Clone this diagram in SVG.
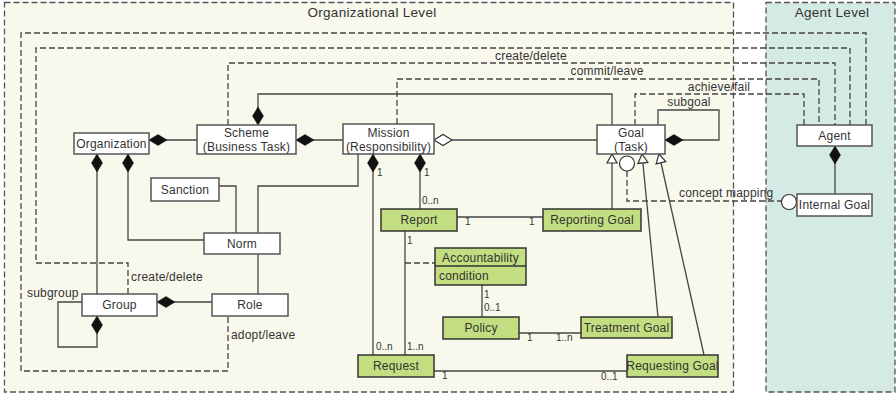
<svg xmlns="http://www.w3.org/2000/svg" width="896" height="396" viewBox="0 0 896 396">
<style>
text{font-family:"Liberation Sans",Arial,sans-serif;fill:#333;}
.t{font-size:12px;text-anchor:middle;letter-spacing:0.2px;}
.l{font-size:12px;letter-spacing:0.2px;}
.m{font-size:10px;}
.title{font-size:13.5px;text-anchor:middle;letter-spacing:0.3px;}
.wb{fill:#fff;stroke:#555;stroke-width:1.5;}
.gb{fill:#c2de80;stroke:#333;stroke-width:1.5;}
.ln{fill:none;stroke:#444;stroke-width:1.3;}
.dl{fill:none;stroke:#444;stroke-width:1.3;stroke-dasharray:6,3;}
.reg{stroke:#555;stroke-width:1.3;stroke-dasharray:6,3;}
</style>
<defs>
<marker id="dia" markerUnits="userSpaceOnUse" markerWidth="20" markerHeight="12" refX="0" refY="0" orient="auto" overflow="visible">
<path d="M0,0 L-9,-5.5 L-18,0 L-9,5.5 Z" fill="#111" stroke="#111" stroke-width="0.5"/>
</marker>
<marker id="odia" markerUnits="userSpaceOnUse" markerWidth="20" markerHeight="12" refX="0" refY="0" orient="auto" overflow="visible">
<path d="M0,0 L-9,-5.5 L-18,0 L-9,5.5 Z" fill="#fff" stroke="#333" stroke-width="1.2"/>
</marker>
<marker id="tri" markerUnits="userSpaceOnUse" markerWidth="12" markerHeight="12" refX="0" refY="0" orient="auto" overflow="visible">
<path d="M0,0 L-9,-5 L-9,5 Z" fill="#fff" stroke="#333" stroke-width="1.2"/>
</marker>
</defs>

<g id="regions">
<rect x="4.5" y="2.5" width="729" height="389.5" fill="#f9f8ed" class="reg"/>
<rect x="766" y="2.5" width="129" height="389.5" fill="#d5eae4" class="reg"/>
<text class="title" x="372" y="17">Organizational Level</text>
<text class="title" x="832" y="17">Agent Level</text>
</g>

<g id="connectors">
<polyline class="dl" points="228,317 228,371 21,371 21,33 866,33 866,125"/>
<polyline class="dl" points="128,294 128,263 36,263 36,48 850,48 850,125"/>
<polyline class="dl" points="228,125 228,63 835,63 835,125"/>
<polyline class="dl" points="397,124 397,79 819,79 819,125"/>
<polyline class="dl" points="635,125 635,94 804,94 804,125"/>
<polyline class="dl" points="627,171 627,201 781,201"/>
<line class="dl" x1="405" y1="263" x2="435" y2="263"/>
<line class="ln" x1="197" y1="140" x2="149" y2="140" marker-end="url(#dia)"/>
<line class="ln" x1="343" y1="140" x2="296" y2="140" marker-end="url(#dia)"/>
<polyline class="ln" points="612,125 612,94 258,94 258,125" marker-end="url(#dia)"/>
<line class="ln" x1="597" y1="140" x2="434" y2="140" marker-end="url(#odia)"/>
<polyline class="ln" points="658,125 658,110 719,110 719,140 665,140" marker-end="url(#dia)"/>
<line class="ln" x1="97" y1="294" x2="97" y2="154" marker-end="url(#dia)"/>
<polyline class="ln" points="204,240 128,240 128,154" marker-end="url(#dia)"/>
<polyline class="ln" points="219,186 236,186 236,233"/>
<polyline class="ln" points="358,154 358,186 258,186 258,233"/>
<line class="ln" x1="258" y1="254" x2="258" y2="294"/>
<line class="ln" x1="212" y1="302" x2="157" y2="302" marker-end="url(#dia)"/>
<polyline class="ln" points="82,302 58,302 58,347 97,347 97,316" marker-end="url(#dia)"/>
<line class="ln" x1="373" y1="355" x2="373" y2="154" marker-end="url(#dia)"/>
<line class="ln" x1="420" y1="209" x2="420" y2="154" marker-end="url(#dia)"/>
<line class="ln" x1="835" y1="194" x2="835" y2="146" marker-end="url(#dia)"/>
<line class="ln" x1="457" y1="217" x2="543" y2="217"/>
<line class="ln" x1="405" y1="231" x2="405" y2="355"/>
<line class="ln" x1="482" y1="285" x2="482" y2="317"/>
<line class="ln" x1="519" y1="333" x2="581" y2="333"/>
<line class="ln" x1="434" y1="371" x2="627" y2="371"/>
<line class="ln" x1="612" y1="209" x2="612" y2="154" marker-end="url(#tri)"/>
<line class="ln" x1="658" y1="317" x2="642" y2="154" marker-end="url(#tri)"/>
<line class="ln" x1="704" y1="355" x2="659" y2="154" marker-end="url(#tri)"/>
<circle cx="627" cy="163.5" r="7.5" fill="#fff" stroke="#333" stroke-width="1.2"/>
<circle cx="789" cy="202" r="7.5" fill="#fff" stroke="#333" stroke-width="1.2"/>
<text class="t" x="531" y="60">create/delete</text>
<text class="t" x="607" y="75">commit/leave</text>
<text class="t" x="719" y="91">achieve/fail</text>
<text class="t" x="689" y="106">subgoal</text>
<text class="l" x="679" y="197">concept mapping</text>
<text class="l" x="131" y="281">create/delete</text>
<text class="l" x="27" y="297">subgroup</text>
<text class="l" x="231" y="339">adopt/leave</text>
<text class="m" x="377" y="176">1</text>
<text class="m" x="424" y="176">1</text>
<text class="m" x="422" y="204">0..n</text>
<text class="m" x="465" y="225">1</text>
<text class="m" x="529" y="225">1</text>
<text class="m" x="407" y="244">1</text>
<text class="m" x="484" y="298">1</text>
<text class="m" x="484" y="311">0..1</text>
<text class="m" x="527" y="341">1</text>
<text class="m" x="556" y="341">1..n</text>
<text class="m" x="376" y="350">0..n</text>
<text class="m" x="407" y="350">1..n</text>
<text class="m" x="442" y="379">1</text>
<text class="m" x="601" y="380">0..1</text>
</g>

<g id="organization"><rect class="wb" x="74" y="133" width="75" height="21"/><text class="t" x="111.5" y="148">Organization</text></g>
<g id="scheme"><rect class="wb" x="197" y="125" width="99" height="29"/><text class="t" x="246.5" y="136.5">Scheme</text><text class="t" x="246.5" y="150.5">(Business Task)</text></g>
<g id="mission"><rect class="wb" x="343" y="124" width="91" height="30"/><text class="t" x="388.5" y="136.5">Mission</text><text class="t" x="388.5" y="150.5">(Responsibility)</text></g>
<g id="goal"><rect class="wb" x="597" y="125" width="68" height="29"/><text class="t" x="631" y="136.5">Goal</text><text class="t" x="631" y="150.5">(Task)</text></g>
<g id="agent"><rect class="wb" x="797" y="125" width="75" height="21"/><text class="t" x="834.5" y="140">Agent</text></g>
<g id="internal-goal"><rect class="wb" x="797" y="194" width="75" height="22"/><text class="t" x="834.5" y="209">Internal Goal</text></g>
<g id="sanction"><rect class="wb" x="151" y="178" width="68" height="23"/><text class="t" x="185" y="194">Sanction</text></g>
<g id="norm"><rect class="wb" x="204" y="233" width="76" height="21"/><text class="t" x="242" y="248">Norm</text></g>
<g id="group"><rect class="wb" x="82" y="294" width="75" height="22"/><text class="t" x="119.5" y="309">Group</text></g>
<g id="role"><rect class="wb" x="212" y="294" width="76" height="22"/><text class="t" x="250" y="309">Role</text></g>
<g id="report"><rect class="gb" x="381" y="209" width="76" height="22"/><text class="t" x="419" y="224">Report</text></g>
<g id="reporting-goal"><rect class="gb" x="543" y="209" width="98" height="22"/><text class="t" x="592" y="224">Reporting Goal</text></g>
<g id="accountability"><rect class="gb" x="435" y="248" width="91" height="37"/><line x1="435" y1="266" x2="526" y2="266" stroke="#333" stroke-width="1.3"/><text class="t" x="480.5" y="262">Accountability</text><text class="l" x="439" y="280">condition</text></g>
<g id="policy"><rect class="gb" x="443" y="317" width="76" height="22"/><text class="t" x="481" y="332">Policy</text></g>
<g id="treatment-goal"><rect class="gb" x="581" y="317" width="91" height="21"/><text class="t" x="626.5" y="332">Treatment Goal</text></g>
<g id="request"><rect class="gb" x="358" y="355" width="76" height="22"/><text class="t" x="396" y="370">Request</text></g>
<g id="requesting-goal"><rect class="gb" x="627" y="355" width="91" height="22"/><text class="t" x="672.5" y="370">Requesting Goal</text></g>
</svg>
